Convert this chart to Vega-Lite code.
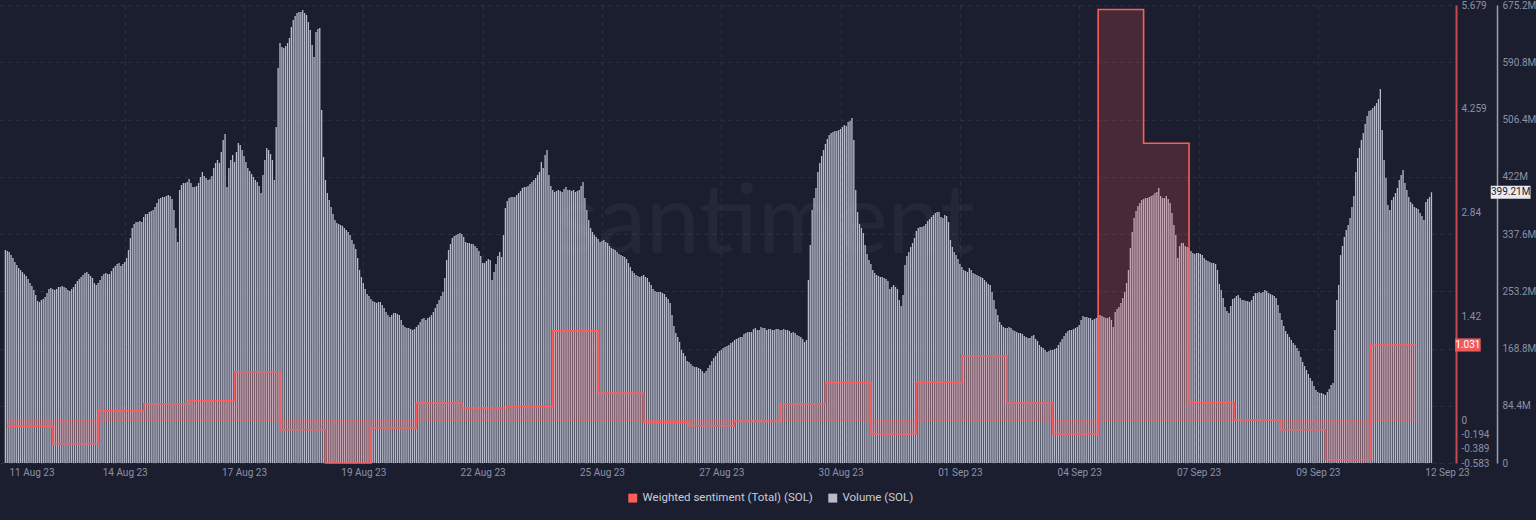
{
"$schema":"https://vega.github.io/schema/vega-lite/v6.json",
"width":1452,"height":458,
"autosize":{"type":"none"},
"padding":{"left":0,"top":5,"right":84,"bottom":57},
"background":"#1b1e2f",
"config":{"view":{"stroke":null},"font":"Roboto","axis":{"labelFont":"Roboto","labelFontSize":10,"labelColor":"#8d91a5","ticks":false}},
"datasets":{
"volume":[
{"t":"2023-08-11 23:00","v":314.0},
{"t":"2023-08-12 00:00","v":312.5},{"t":"2023-08-12 01:00","v":311.1},{"t":"2023-08-12 02:00","v":306.6},{"t":"2023-08-12 03:00","v":302.2},{"t":"2023-08-12 04:00","v":296.3},{"t":"2023-08-12 05:00","v":291.9},{"t":"2023-08-12 06:00","v":287.5},{"t":"2023-08-12 07:00","v":284.5},{"t":"2023-08-12 08:00","v":281.6},{"t":"2023-08-12 09:00","v":278.6},{"t":"2023-08-12 10:00","v":275.7},{"t":"2023-08-12 11:00","v":271.3},{"t":"2023-08-12 12:00","v":265.4},{"t":"2023-08-12 13:00","v":260.9},{"t":"2023-08-12 14:00","v":255.0},{"t":"2023-08-12 15:00","v":247.7},{"t":"2023-08-12 16:00","v":238.8},{"t":"2023-08-12 17:00","v":237.3},{"t":"2023-08-12 18:00","v":240.3},{"t":"2023-08-12 19:00","v":241.8},{"t":"2023-08-12 20:00","v":244.7},{"t":"2023-08-12 21:00","v":250.6},{"t":"2023-08-12 22:00","v":256.5},{"t":"2023-08-12 23:00","v":258.0},
{"t":"2023-08-13 00:00","v":256.5},{"t":"2023-08-13 01:00","v":255.0},{"t":"2023-08-13 02:00","v":256.5},{"t":"2023-08-13 03:00","v":259.5},{"t":"2023-08-13 04:00","v":259.5},{"t":"2023-08-13 05:00","v":260.9},{"t":"2023-08-13 06:00","v":259.5},{"t":"2023-08-13 07:00","v":258.0},{"t":"2023-08-13 08:00","v":255.0},{"t":"2023-08-13 09:00","v":253.6},{"t":"2023-08-13 10:00","v":256.5},{"t":"2023-08-13 11:00","v":259.5},{"t":"2023-08-13 12:00","v":263.9},{"t":"2023-08-13 13:00","v":268.3},{"t":"2023-08-13 14:00","v":271.3},{"t":"2023-08-13 15:00","v":274.2},{"t":"2023-08-13 16:00","v":277.2},{"t":"2023-08-13 17:00","v":280.1},{"t":"2023-08-13 18:00","v":281.6},{"t":"2023-08-13 19:00","v":278.6},{"t":"2023-08-13 20:00","v":275.7},{"t":"2023-08-13 21:00","v":272.7},{"t":"2023-08-13 22:00","v":265.4},{"t":"2023-08-13 23:00","v":262.4},
{"t":"2023-08-14 00:00","v":265.4},{"t":"2023-08-14 01:00","v":269.8},{"t":"2023-08-14 02:00","v":275.7},{"t":"2023-08-14 03:00","v":278.6},{"t":"2023-08-14 04:00","v":280.1},{"t":"2023-08-14 05:00","v":278.6},{"t":"2023-08-14 06:00","v":278.6},{"t":"2023-08-14 07:00","v":283.0},{"t":"2023-08-14 08:00","v":287.5},{"t":"2023-08-14 09:00","v":290.4},{"t":"2023-08-14 10:00","v":293.4},{"t":"2023-08-14 11:00","v":294.8},{"t":"2023-08-14 12:00","v":290.4},{"t":"2023-08-14 13:00","v":293.4},{"t":"2023-08-14 14:00","v":296.3},{"t":"2023-08-14 15:00","v":302.2},{"t":"2023-08-14 16:00","v":314.0},{"t":"2023-08-14 17:00","v":331.7},{"t":"2023-08-14 18:00","v":346.4},{"t":"2023-08-14 19:00","v":352.3},{"t":"2023-08-14 20:00","v":355.3},{"t":"2023-08-14 21:00","v":355.3},{"t":"2023-08-14 22:00","v":356.8},{"t":"2023-08-14 23:00","v":355.3},
{"t":"2023-08-15 00:00","v":362.7},{"t":"2023-08-15 01:00","v":367.1},{"t":"2023-08-15 02:00","v":367.1},{"t":"2023-08-15 03:00","v":370.0},{"t":"2023-08-15 04:00","v":371.5},{"t":"2023-08-15 05:00","v":373.0},{"t":"2023-08-15 06:00","v":377.4},{"t":"2023-08-15 07:00","v":383.3},{"t":"2023-08-15 08:00","v":389.2},{"t":"2023-08-15 09:00","v":390.7},{"t":"2023-08-15 10:00","v":392.1},{"t":"2023-08-15 11:00","v":392.1},{"t":"2023-08-15 12:00","v":393.6},{"t":"2023-08-15 13:00","v":395.1},{"t":"2023-08-15 14:00","v":393.6},{"t":"2023-08-15 15:00","v":389.2},{"t":"2023-08-15 16:00","v":373.0},{"t":"2023-08-15 17:00","v":346.4},{"t":"2023-08-15 18:00","v":325.8},{"t":"2023-08-15 19:00","v":402.5},{"t":"2023-08-15 20:00","v":409.8},{"t":"2023-08-15 21:00","v":412.8},{"t":"2023-08-15 22:00","v":412.8},{"t":"2023-08-15 23:00","v":414.3},
{"t":"2023-08-16 00:00","v":418.7},{"t":"2023-08-16 01:00","v":412.8},{"t":"2023-08-16 02:00","v":406.9},{"t":"2023-08-16 03:00","v":406.9},{"t":"2023-08-16 04:00","v":408.4},{"t":"2023-08-16 05:00","v":412.8},{"t":"2023-08-16 06:00","v":421.6},{"t":"2023-08-16 07:00","v":429.0},{"t":"2023-08-16 08:00","v":423.1},{"t":"2023-08-16 09:00","v":420.1},{"t":"2023-08-16 10:00","v":417.2},{"t":"2023-08-16 11:00","v":418.7},{"t":"2023-08-16 12:00","v":423.1},{"t":"2023-08-16 13:00","v":434.9},{"t":"2023-08-16 14:00","v":442.3},{"t":"2023-08-16 15:00","v":446.7},{"t":"2023-08-16 16:00","v":442.3},{"t":"2023-08-16 17:00","v":458.5},{"t":"2023-08-16 18:00","v":476.2},{"t":"2023-08-16 19:00","v":485.0},{"t":"2023-08-16 20:00","v":406.9},{"t":"2023-08-16 21:00","v":434.9},{"t":"2023-08-16 22:00","v":446.7},{"t":"2023-08-16 23:00","v":454.1},
{"t":"2023-08-17 00:00","v":443.7},{"t":"2023-08-17 01:00","v":458.5},{"t":"2023-08-17 02:00","v":471.7},{"t":"2023-08-17 03:00","v":468.8},{"t":"2023-08-17 04:00","v":461.4},{"t":"2023-08-17 05:00","v":452.6},{"t":"2023-08-17 06:00","v":443.7},{"t":"2023-08-17 07:00","v":434.9},{"t":"2023-08-17 08:00","v":430.5},{"t":"2023-08-17 09:00","v":426.0},{"t":"2023-08-17 10:00","v":421.6},{"t":"2023-08-17 11:00","v":417.2},{"t":"2023-08-17 12:00","v":414.3},{"t":"2023-08-17 13:00","v":408.4},{"t":"2023-08-17 14:00","v":398.0},{"t":"2023-08-17 15:00","v":424.6},{"t":"2023-08-17 16:00","v":446.7},{"t":"2023-08-17 17:00","v":464.4},{"t":"2023-08-17 18:00","v":461.4},{"t":"2023-08-17 19:00","v":455.5},{"t":"2023-08-17 20:00","v":446.7},{"t":"2023-08-17 21:00","v":417.2},{"t":"2023-08-17 22:00","v":495.3},{"t":"2023-08-17 23:00","v":582.3},
{"t":"2023-08-18 00:00","v":619.2},{"t":"2023-08-18 01:00","v":613.3},{"t":"2023-08-18 02:00","v":611.8},{"t":"2023-08-18 03:00","v":614.7},{"t":"2023-08-18 04:00","v":619.2},{"t":"2023-08-18 05:00","v":626.5},{"t":"2023-08-18 06:00","v":642.8},{"t":"2023-08-18 07:00","v":653.1},{"t":"2023-08-18 08:00","v":659.0},{"t":"2023-08-18 09:00","v":663.4},{"t":"2023-08-18 10:00","v":664.9},{"t":"2023-08-18 11:00","v":664.9},{"t":"2023-08-18 12:00","v":667.8},{"t":"2023-08-18 13:00","v":663.4},{"t":"2023-08-18 14:00","v":660.4},{"t":"2023-08-18 15:00","v":650.1},{"t":"2023-08-18 16:00","v":638.3},{"t":"2023-08-18 17:00","v":616.2},{"t":"2023-08-18 18:00","v":598.5},{"t":"2023-08-18 19:00","v":635.4},{"t":"2023-08-18 20:00","v":639.8},{"t":"2023-08-18 21:00","v":641.3},{"t":"2023-08-18 22:00","v":520.4},{"t":"2023-08-18 23:00","v":451.1},
{"t":"2023-08-19 00:00","v":417.2},{"t":"2023-08-19 01:00","v":398.0},{"t":"2023-08-19 02:00","v":387.7},{"t":"2023-08-19 03:00","v":377.4},{"t":"2023-08-19 04:00","v":367.1},{"t":"2023-08-19 05:00","v":358.2},{"t":"2023-08-19 06:00","v":353.8},{"t":"2023-08-19 07:00","v":352.3},{"t":"2023-08-19 08:00","v":350.9},{"t":"2023-08-19 09:00","v":349.4},{"t":"2023-08-19 10:00","v":346.4},{"t":"2023-08-19 11:00","v":343.5},{"t":"2023-08-19 12:00","v":340.5},{"t":"2023-08-19 13:00","v":336.1},{"t":"2023-08-19 14:00","v":328.7},{"t":"2023-08-19 15:00","v":322.8},{"t":"2023-08-19 16:00","v":315.5},{"t":"2023-08-19 17:00","v":302.2},{"t":"2023-08-19 18:00","v":284.5},{"t":"2023-08-19 19:00","v":274.2},{"t":"2023-08-19 20:00","v":265.4},{"t":"2023-08-19 21:00","v":256.5},{"t":"2023-08-19 22:00","v":249.1},{"t":"2023-08-19 23:00","v":246.2},
{"t":"2023-08-20 00:00","v":241.8},{"t":"2023-08-20 01:00","v":238.8},{"t":"2023-08-20 02:00","v":237.3},{"t":"2023-08-20 03:00","v":235.9},{"t":"2023-08-20 04:00","v":237.3},{"t":"2023-08-20 05:00","v":237.3},{"t":"2023-08-20 06:00","v":232.9},{"t":"2023-08-20 07:00","v":228.5},{"t":"2023-08-20 08:00","v":222.6},{"t":"2023-08-20 09:00","v":218.2},{"t":"2023-08-20 10:00","v":215.2},{"t":"2023-08-20 11:00","v":218.2},{"t":"2023-08-20 12:00","v":221.1},{"t":"2023-08-20 13:00","v":221.1},{"t":"2023-08-20 14:00","v":219.7},{"t":"2023-08-20 15:00","v":218.2},{"t":"2023-08-20 16:00","v":210.8},{"t":"2023-08-20 17:00","v":203.4},{"t":"2023-08-20 18:00","v":200.5},{"t":"2023-08-20 19:00","v":199.0},{"t":"2023-08-20 20:00","v":199.0},{"t":"2023-08-20 21:00","v":197.5},{"t":"2023-08-20 22:00","v":196.1},{"t":"2023-08-20 23:00","v":197.5},
{"t":"2023-08-21 00:00","v":200.5},{"t":"2023-08-21 01:00","v":203.4},{"t":"2023-08-21 02:00","v":207.9},{"t":"2023-08-21 03:00","v":212.3},{"t":"2023-08-21 04:00","v":213.8},{"t":"2023-08-21 05:00","v":210.8},{"t":"2023-08-21 06:00","v":213.8},{"t":"2023-08-21 07:00","v":215.2},{"t":"2023-08-21 08:00","v":218.2},{"t":"2023-08-21 09:00","v":222.6},{"t":"2023-08-21 10:00","v":228.5},{"t":"2023-08-21 11:00","v":234.4},{"t":"2023-08-21 12:00","v":240.3},{"t":"2023-08-21 13:00","v":246.2},{"t":"2023-08-21 14:00","v":252.1},{"t":"2023-08-21 15:00","v":272.7},{"t":"2023-08-21 16:00","v":299.3},{"t":"2023-08-21 17:00","v":314.0},{"t":"2023-08-21 18:00","v":322.8},{"t":"2023-08-21 19:00","v":331.7},{"t":"2023-08-21 20:00","v":334.6},{"t":"2023-08-21 21:00","v":336.1},{"t":"2023-08-21 22:00","v":337.6},{"t":"2023-08-21 23:00","v":339.1},
{"t":"2023-08-22 00:00","v":337.6},{"t":"2023-08-22 01:00","v":333.2},{"t":"2023-08-22 02:00","v":325.8},{"t":"2023-08-22 03:00","v":324.3},{"t":"2023-08-22 04:00","v":324.3},{"t":"2023-08-22 05:00","v":322.8},{"t":"2023-08-22 06:00","v":322.8},{"t":"2023-08-22 07:00","v":319.9},{"t":"2023-08-22 08:00","v":317.0},{"t":"2023-08-22 09:00","v":312.5},{"t":"2023-08-22 10:00","v":305.2},{"t":"2023-08-22 11:00","v":294.8},{"t":"2023-08-22 12:00","v":294.8},{"t":"2023-08-22 13:00","v":297.8},{"t":"2023-08-22 14:00","v":300.7},{"t":"2023-08-22 15:00","v":299.3},{"t":"2023-08-22 16:00","v":269.8},{"t":"2023-08-22 17:00","v":281.6},{"t":"2023-08-22 18:00","v":293.4},{"t":"2023-08-22 19:00","v":305.2},{"t":"2023-08-22 20:00","v":311.1},{"t":"2023-08-22 21:00","v":303.7},{"t":"2023-08-22 22:00","v":336.1},{"t":"2023-08-22 23:00","v":375.9},
{"t":"2023-08-23 00:00","v":386.2},{"t":"2023-08-23 01:00","v":390.7},{"t":"2023-08-23 02:00","v":392.1},{"t":"2023-08-23 03:00","v":392.1},{"t":"2023-08-23 04:00","v":392.1},{"t":"2023-08-23 05:00","v":395.1},{"t":"2023-08-23 06:00","v":398.0},{"t":"2023-08-23 07:00","v":401.0},{"t":"2023-08-23 08:00","v":405.4},{"t":"2023-08-23 09:00","v":406.9},{"t":"2023-08-23 10:00","v":406.9},{"t":"2023-08-23 11:00","v":408.4},{"t":"2023-08-23 12:00","v":411.3},{"t":"2023-08-23 13:00","v":414.3},{"t":"2023-08-23 14:00","v":417.2},{"t":"2023-08-23 15:00","v":420.1},{"t":"2023-08-23 16:00","v":424.6},{"t":"2023-08-23 17:00","v":429.0},{"t":"2023-08-23 18:00","v":443.7},{"t":"2023-08-23 19:00","v":434.9},{"t":"2023-08-23 20:00","v":454.1},{"t":"2023-08-23 21:00","v":461.4},{"t":"2023-08-23 22:00","v":424.6},{"t":"2023-08-23 23:00","v":408.4},
{"t":"2023-08-24 00:00","v":402.5},{"t":"2023-08-24 01:00","v":399.5},{"t":"2023-08-24 02:00","v":401.0},{"t":"2023-08-24 03:00","v":402.5},{"t":"2023-08-24 04:00","v":401.0},{"t":"2023-08-24 05:00","v":399.5},{"t":"2023-08-24 06:00","v":403.9},{"t":"2023-08-24 07:00","v":406.9},{"t":"2023-08-24 08:00","v":402.5},{"t":"2023-08-24 09:00","v":402.5},{"t":"2023-08-24 10:00","v":401.0},{"t":"2023-08-24 11:00","v":402.5},{"t":"2023-08-24 12:00","v":399.5},{"t":"2023-08-24 13:00","v":401.0},{"t":"2023-08-24 14:00","v":402.5},{"t":"2023-08-24 15:00","v":408.4},{"t":"2023-08-24 16:00","v":414.3},{"t":"2023-08-24 17:00","v":390.7},{"t":"2023-08-24 18:00","v":373.0},{"t":"2023-08-24 19:00","v":358.2},{"t":"2023-08-24 20:00","v":346.4},{"t":"2023-08-24 21:00","v":340.5},{"t":"2023-08-24 22:00","v":336.1},{"t":"2023-08-24 23:00","v":333.2},
{"t":"2023-08-25 00:00","v":330.2},{"t":"2023-08-25 01:00","v":325.8},{"t":"2023-08-25 02:00","v":327.3},{"t":"2023-08-25 03:00","v":328.7},{"t":"2023-08-25 04:00","v":325.8},{"t":"2023-08-25 05:00","v":324.3},{"t":"2023-08-25 06:00","v":319.9},{"t":"2023-08-25 07:00","v":317.0},{"t":"2023-08-25 08:00","v":315.5},{"t":"2023-08-25 09:00","v":314.0},{"t":"2023-08-25 10:00","v":311.1},{"t":"2023-08-25 11:00","v":308.1},{"t":"2023-08-25 12:00","v":306.6},{"t":"2023-08-25 13:00","v":305.2},{"t":"2023-08-25 14:00","v":303.7},{"t":"2023-08-25 15:00","v":300.7},{"t":"2023-08-25 16:00","v":294.8},{"t":"2023-08-25 17:00","v":288.9},{"t":"2023-08-25 18:00","v":283.0},{"t":"2023-08-25 19:00","v":280.1},{"t":"2023-08-25 20:00","v":277.2},{"t":"2023-08-25 21:00","v":275.7},{"t":"2023-08-25 22:00","v":274.2},{"t":"2023-08-25 23:00","v":275.7},
{"t":"2023-08-26 00:00","v":277.2},{"t":"2023-08-26 01:00","v":274.2},{"t":"2023-08-26 02:00","v":272.7},{"t":"2023-08-26 03:00","v":266.8},{"t":"2023-08-26 04:00","v":262.4},{"t":"2023-08-26 05:00","v":256.5},{"t":"2023-08-26 06:00","v":253.6},{"t":"2023-08-26 07:00","v":252.1},{"t":"2023-08-26 08:00","v":252.1},{"t":"2023-08-26 09:00","v":252.1},{"t":"2023-08-26 10:00","v":250.6},{"t":"2023-08-26 11:00","v":249.1},{"t":"2023-08-26 12:00","v":244.7},{"t":"2023-08-26 13:00","v":241.8},{"t":"2023-08-26 14:00","v":235.9},{"t":"2023-08-26 15:00","v":218.2},{"t":"2023-08-26 16:00","v":202.0},{"t":"2023-08-26 17:00","v":191.6},{"t":"2023-08-26 18:00","v":185.7},{"t":"2023-08-26 19:00","v":178.4},{"t":"2023-08-26 20:00","v":166.6},{"t":"2023-08-26 21:00","v":162.2},{"t":"2023-08-26 22:00","v":157.7},{"t":"2023-08-26 23:00","v":150.4},
{"t":"2023-08-27 00:00","v":148.9},{"t":"2023-08-27 01:00","v":145.9},{"t":"2023-08-27 02:00","v":143.0},{"t":"2023-08-27 03:00","v":141.5},{"t":"2023-08-27 04:00","v":141.5},{"t":"2023-08-27 05:00","v":140.0},{"t":"2023-08-27 06:00","v":138.6},{"t":"2023-08-27 07:00","v":135.6},{"t":"2023-08-27 08:00","v":132.7},{"t":"2023-08-27 09:00","v":135.6},{"t":"2023-08-27 10:00","v":140.0},{"t":"2023-08-27 11:00","v":144.5},{"t":"2023-08-27 12:00","v":150.4},{"t":"2023-08-27 13:00","v":154.8},{"t":"2023-08-27 14:00","v":157.7},{"t":"2023-08-27 15:00","v":162.2},{"t":"2023-08-27 16:00","v":165.1},{"t":"2023-08-27 17:00","v":166.6},{"t":"2023-08-27 18:00","v":169.5},{"t":"2023-08-27 19:00","v":171.0},{"t":"2023-08-27 20:00","v":172.5},{"t":"2023-08-27 21:00","v":174.0},{"t":"2023-08-27 22:00","v":176.9},{"t":"2023-08-27 23:00","v":178.4},
{"t":"2023-08-28 00:00","v":181.3},{"t":"2023-08-28 01:00","v":182.8},{"t":"2023-08-28 02:00","v":184.3},{"t":"2023-08-28 03:00","v":185.7},{"t":"2023-08-28 04:00","v":185.7},{"t":"2023-08-28 05:00","v":190.2},{"t":"2023-08-28 06:00","v":191.6},{"t":"2023-08-28 07:00","v":193.1},{"t":"2023-08-28 08:00","v":193.1},{"t":"2023-08-28 09:00","v":193.1},{"t":"2023-08-28 10:00","v":197.5},{"t":"2023-08-28 11:00","v":199.0},{"t":"2023-08-28 12:00","v":196.1},{"t":"2023-08-28 13:00","v":196.1},{"t":"2023-08-28 14:00","v":200.5},{"t":"2023-08-28 15:00","v":199.0},{"t":"2023-08-28 16:00","v":199.0},{"t":"2023-08-28 17:00","v":196.1},{"t":"2023-08-28 18:00","v":197.5},{"t":"2023-08-28 19:00","v":197.5},{"t":"2023-08-28 20:00","v":196.1},{"t":"2023-08-28 21:00","v":196.1},{"t":"2023-08-28 22:00","v":197.5},{"t":"2023-08-28 23:00","v":197.5},
{"t":"2023-08-29 00:00","v":196.1},{"t":"2023-08-29 01:00","v":196.1},{"t":"2023-08-29 02:00","v":197.5},{"t":"2023-08-29 03:00","v":196.1},{"t":"2023-08-29 04:00","v":196.1},{"t":"2023-08-29 05:00","v":194.6},{"t":"2023-08-29 06:00","v":191.6},{"t":"2023-08-29 07:00","v":193.1},{"t":"2023-08-29 08:00","v":191.6},{"t":"2023-08-29 09:00","v":188.7},{"t":"2023-08-29 10:00","v":187.2},{"t":"2023-08-29 11:00","v":185.7},{"t":"2023-08-29 12:00","v":182.8},{"t":"2023-08-29 13:00","v":178.4},{"t":"2023-08-29 14:00","v":181.3},{"t":"2023-08-29 15:00","v":269.8},{"t":"2023-08-29 16:00","v":321.4},{"t":"2023-08-29 17:00","v":373.0},{"t":"2023-08-29 18:00","v":390.7},{"t":"2023-08-29 19:00","v":405.4},{"t":"2023-08-29 20:00","v":429.0},{"t":"2023-08-29 21:00","v":442.3},{"t":"2023-08-29 22:00","v":452.6},{"t":"2023-08-29 23:00","v":461.4},
{"t":"2023-08-30 00:00","v":470.3},{"t":"2023-08-30 01:00","v":477.6},{"t":"2023-08-30 02:00","v":483.5},{"t":"2023-08-30 03:00","v":486.5},{"t":"2023-08-30 04:00","v":488.0},{"t":"2023-08-30 05:00","v":489.4},{"t":"2023-08-30 06:00","v":489.4},{"t":"2023-08-30 07:00","v":490.9},{"t":"2023-08-30 08:00","v":492.4},{"t":"2023-08-30 09:00","v":495.3},{"t":"2023-08-30 10:00","v":498.3},{"t":"2023-08-30 11:00","v":496.8},{"t":"2023-08-30 12:00","v":502.7},{"t":"2023-08-30 13:00","v":504.2},{"t":"2023-08-30 14:00","v":508.6},{"t":"2023-08-30 15:00","v":476.2},{"t":"2023-08-30 16:00","v":402.5},{"t":"2023-08-30 17:00","v":370.0},{"t":"2023-08-30 18:00","v":352.3},{"t":"2023-08-30 19:00","v":346.4},{"t":"2023-08-30 20:00","v":339.1},{"t":"2023-08-30 21:00","v":321.4},{"t":"2023-08-30 22:00","v":308.1},{"t":"2023-08-30 23:00","v":299.3},
{"t":"2023-08-31 00:00","v":293.4},{"t":"2023-08-31 01:00","v":284.5},{"t":"2023-08-31 02:00","v":280.1},{"t":"2023-08-31 03:00","v":277.2},{"t":"2023-08-31 04:00","v":275.7},{"t":"2023-08-31 05:00","v":274.2},{"t":"2023-08-31 06:00","v":274.2},{"t":"2023-08-31 07:00","v":272.7},{"t":"2023-08-31 08:00","v":271.3},{"t":"2023-08-31 09:00","v":268.3},{"t":"2023-08-31 10:00","v":256.5},{"t":"2023-08-31 11:00","v":259.5},{"t":"2023-08-31 12:00","v":262.4},{"t":"2023-08-31 13:00","v":259.5},{"t":"2023-08-31 14:00","v":256.5},{"t":"2023-08-31 15:00","v":240.3},{"t":"2023-08-31 16:00","v":231.4},{"t":"2023-08-31 17:00","v":247.7},{"t":"2023-08-31 18:00","v":291.9},{"t":"2023-08-31 19:00","v":305.2},{"t":"2023-08-31 20:00","v":311.1},{"t":"2023-08-31 21:00","v":318.4},{"t":"2023-08-31 22:00","v":324.3},{"t":"2023-08-31 23:00","v":331.7},
{"t":"2023-09-01 00:00","v":342.0},{"t":"2023-09-01 01:00","v":346.4},{"t":"2023-09-01 02:00","v":347.9},{"t":"2023-09-01 03:00","v":347.9},{"t":"2023-09-01 04:00","v":349.4},{"t":"2023-09-01 05:00","v":352.3},{"t":"2023-09-01 06:00","v":356.8},{"t":"2023-09-01 07:00","v":359.7},{"t":"2023-09-01 08:00","v":362.7},{"t":"2023-09-01 09:00","v":365.6},{"t":"2023-09-01 10:00","v":368.6},{"t":"2023-09-01 11:00","v":370.0},{"t":"2023-09-01 12:00","v":370.0},{"t":"2023-09-01 13:00","v":362.7},{"t":"2023-09-01 14:00","v":361.2},{"t":"2023-09-01 15:00","v":365.6},{"t":"2023-09-01 16:00","v":364.1},{"t":"2023-09-01 17:00","v":355.3},{"t":"2023-09-01 18:00","v":328.7},{"t":"2023-09-01 19:00","v":318.4},{"t":"2023-09-01 20:00","v":311.1},{"t":"2023-09-01 21:00","v":306.6},{"t":"2023-09-01 22:00","v":300.7},{"t":"2023-09-01 23:00","v":293.4},
{"t":"2023-09-02 00:00","v":288.9},{"t":"2023-09-02 01:00","v":284.5},{"t":"2023-09-02 02:00","v":283.0},{"t":"2023-09-02 03:00","v":281.6},{"t":"2023-09-02 04:00","v":287.5},{"t":"2023-09-02 05:00","v":284.5},{"t":"2023-09-02 06:00","v":280.1},{"t":"2023-09-02 07:00","v":278.6},{"t":"2023-09-02 08:00","v":277.2},{"t":"2023-09-02 09:00","v":275.7},{"t":"2023-09-02 10:00","v":274.2},{"t":"2023-09-02 11:00","v":272.7},{"t":"2023-09-02 12:00","v":269.8},{"t":"2023-09-02 13:00","v":266.8},{"t":"2023-09-02 14:00","v":263.9},{"t":"2023-09-02 15:00","v":262.4},{"t":"2023-09-02 16:00","v":252.1},{"t":"2023-09-02 17:00","v":240.3},{"t":"2023-09-02 18:00","v":227.0},{"t":"2023-09-02 19:00","v":218.2},{"t":"2023-09-02 20:00","v":207.9},{"t":"2023-09-02 21:00","v":203.4},{"t":"2023-09-02 22:00","v":200.5},{"t":"2023-09-02 23:00","v":199.0},
{"t":"2023-09-03 00:00","v":199.0},{"t":"2023-09-03 01:00","v":200.5},{"t":"2023-09-03 02:00","v":199.0},{"t":"2023-09-03 03:00","v":196.1},{"t":"2023-09-03 04:00","v":194.6},{"t":"2023-09-03 05:00","v":193.1},{"t":"2023-09-03 06:00","v":191.6},{"t":"2023-09-03 07:00","v":191.6},{"t":"2023-09-03 08:00","v":190.2},{"t":"2023-09-03 09:00","v":187.2},{"t":"2023-09-03 10:00","v":185.7},{"t":"2023-09-03 11:00","v":184.3},{"t":"2023-09-03 12:00","v":184.3},{"t":"2023-09-03 13:00","v":187.2},{"t":"2023-09-03 14:00","v":188.7},{"t":"2023-09-03 15:00","v":182.8},{"t":"2023-09-03 16:00","v":179.9},{"t":"2023-09-03 17:00","v":174.0},{"t":"2023-09-03 18:00","v":171.0},{"t":"2023-09-03 19:00","v":169.5},{"t":"2023-09-03 20:00","v":166.6},{"t":"2023-09-03 21:00","v":163.6},{"t":"2023-09-03 22:00","v":165.1},{"t":"2023-09-03 23:00","v":166.6},
{"t":"2023-09-04 00:00","v":166.6},{"t":"2023-09-04 01:00","v":168.1},{"t":"2023-09-04 02:00","v":169.5},{"t":"2023-09-04 03:00","v":174.0},{"t":"2023-09-04 04:00","v":178.4},{"t":"2023-09-04 05:00","v":182.8},{"t":"2023-09-04 06:00","v":187.2},{"t":"2023-09-04 07:00","v":191.6},{"t":"2023-09-04 08:00","v":194.6},{"t":"2023-09-04 09:00","v":196.1},{"t":"2023-09-04 10:00","v":196.1},{"t":"2023-09-04 11:00","v":197.5},{"t":"2023-09-04 12:00","v":199.0},{"t":"2023-09-04 13:00","v":200.5},{"t":"2023-09-04 14:00","v":203.4},{"t":"2023-09-04 15:00","v":210.8},{"t":"2023-09-04 16:00","v":216.7},{"t":"2023-09-04 17:00","v":215.2},{"t":"2023-09-04 18:00","v":215.2},{"t":"2023-09-04 19:00","v":213.8},{"t":"2023-09-04 20:00","v":213.8},{"t":"2023-09-04 21:00","v":210.8},{"t":"2023-09-04 22:00","v":212.3},{"t":"2023-09-04 23:00","v":213.8},
{"t":"2023-09-05 00:00","v":216.7},{"t":"2023-09-05 01:00","v":218.2},{"t":"2023-09-05 02:00","v":216.7},{"t":"2023-09-05 03:00","v":215.2},{"t":"2023-09-05 04:00","v":213.8},{"t":"2023-09-05 05:00","v":213.8},{"t":"2023-09-05 06:00","v":215.2},{"t":"2023-09-05 07:00","v":210.8},{"t":"2023-09-05 08:00","v":200.5},{"t":"2023-09-05 09:00","v":222.6},{"t":"2023-09-05 10:00","v":227.0},{"t":"2023-09-05 11:00","v":230.0},{"t":"2023-09-05 12:00","v":235.9},{"t":"2023-09-05 13:00","v":243.2},{"t":"2023-09-05 14:00","v":252.1},{"t":"2023-09-05 15:00","v":265.4},{"t":"2023-09-05 16:00","v":284.5},{"t":"2023-09-05 17:00","v":317.0},{"t":"2023-09-05 18:00","v":340.5},{"t":"2023-09-05 19:00","v":361.2},{"t":"2023-09-05 20:00","v":371.5},{"t":"2023-09-05 21:00","v":378.9},{"t":"2023-09-05 22:00","v":383.3},{"t":"2023-09-05 23:00","v":387.7},
{"t":"2023-09-06 00:00","v":389.2},{"t":"2023-09-06 01:00","v":390.7},{"t":"2023-09-06 02:00","v":390.7},{"t":"2023-09-06 03:00","v":392.1},{"t":"2023-09-06 04:00","v":393.6},{"t":"2023-09-06 05:00","v":395.1},{"t":"2023-09-06 06:00","v":398.0},{"t":"2023-09-06 07:00","v":399.5},{"t":"2023-09-06 08:00","v":405.4},{"t":"2023-09-06 09:00","v":393.6},{"t":"2023-09-06 10:00","v":390.7},{"t":"2023-09-06 11:00","v":390.7},{"t":"2023-09-06 12:00","v":393.6},{"t":"2023-09-06 13:00","v":389.2},{"t":"2023-09-06 14:00","v":383.3},{"t":"2023-09-06 15:00","v":368.6},{"t":"2023-09-06 16:00","v":350.9},{"t":"2023-09-06 17:00","v":336.1},{"t":"2023-09-06 18:00","v":302.2},{"t":"2023-09-06 19:00","v":319.9},{"t":"2023-09-06 20:00","v":324.3},{"t":"2023-09-06 21:00","v":324.3},{"t":"2023-09-06 22:00","v":319.9},{"t":"2023-09-06 23:00","v":318.4},
{"t":"2023-09-07 00:00","v":317.0},{"t":"2023-09-07 01:00","v":312.5},{"t":"2023-09-07 02:00","v":309.6},{"t":"2023-09-07 03:00","v":308.1},{"t":"2023-09-07 04:00","v":309.6},{"t":"2023-09-07 05:00","v":309.6},{"t":"2023-09-07 06:00","v":308.1},{"t":"2023-09-07 07:00","v":306.6},{"t":"2023-09-07 08:00","v":302.2},{"t":"2023-09-07 09:00","v":299.3},{"t":"2023-09-07 10:00","v":297.8},{"t":"2023-09-07 11:00","v":296.3},{"t":"2023-09-07 12:00","v":294.8},{"t":"2023-09-07 13:00","v":294.8},{"t":"2023-09-07 14:00","v":293.4},{"t":"2023-09-07 15:00","v":284.5},{"t":"2023-09-07 16:00","v":263.9},{"t":"2023-09-07 17:00","v":255.0},{"t":"2023-09-07 18:00","v":243.2},{"t":"2023-09-07 19:00","v":230.0},{"t":"2023-09-07 20:00","v":224.1},{"t":"2023-09-07 21:00","v":221.1},{"t":"2023-09-07 22:00","v":231.4},{"t":"2023-09-07 23:00","v":241.8},
{"t":"2023-09-08 00:00","v":243.2},{"t":"2023-09-08 01:00","v":246.2},{"t":"2023-09-08 02:00","v":247.7},{"t":"2023-09-08 03:00","v":243.2},{"t":"2023-09-08 04:00","v":240.3},{"t":"2023-09-08 05:00","v":240.3},{"t":"2023-09-08 06:00","v":238.8},{"t":"2023-09-08 07:00","v":238.8},{"t":"2023-09-08 08:00","v":237.3},{"t":"2023-09-08 09:00","v":240.3},{"t":"2023-09-08 10:00","v":246.2},{"t":"2023-09-08 11:00","v":250.6},{"t":"2023-09-08 12:00","v":250.6},{"t":"2023-09-08 13:00","v":252.1},{"t":"2023-09-08 14:00","v":250.6},{"t":"2023-09-08 15:00","v":252.1},{"t":"2023-09-08 16:00","v":255.0},{"t":"2023-09-08 17:00","v":253.6},{"t":"2023-09-08 18:00","v":250.6},{"t":"2023-09-08 19:00","v":249.1},{"t":"2023-09-08 20:00","v":247.7},{"t":"2023-09-08 21:00","v":246.2},{"t":"2023-09-08 22:00","v":243.2},{"t":"2023-09-08 23:00","v":232.9},
{"t":"2023-09-09 00:00","v":221.1},{"t":"2023-09-09 01:00","v":210.8},{"t":"2023-09-09 02:00","v":202.0},{"t":"2023-09-09 03:00","v":194.6},{"t":"2023-09-09 04:00","v":190.2},{"t":"2023-09-09 05:00","v":185.7},{"t":"2023-09-09 06:00","v":181.3},{"t":"2023-09-09 07:00","v":176.9},{"t":"2023-09-09 08:00","v":174.0},{"t":"2023-09-09 09:00","v":169.5},{"t":"2023-09-09 10:00","v":165.1},{"t":"2023-09-09 11:00","v":156.3},{"t":"2023-09-09 12:00","v":148.9},{"t":"2023-09-09 13:00","v":143.0},{"t":"2023-09-09 14:00","v":137.1},{"t":"2023-09-09 15:00","v":131.2},{"t":"2023-09-09 16:00","v":125.3},{"t":"2023-09-09 17:00","v":120.9},{"t":"2023-09-09 18:00","v":113.5},{"t":"2023-09-09 19:00","v":107.6},{"t":"2023-09-09 20:00","v":104.7},{"t":"2023-09-09 21:00","v":103.2},{"t":"2023-09-09 22:00","v":103.2},{"t":"2023-09-09 23:00","v":101.7},
{"t":"2023-09-10 00:00","v":100.2},{"t":"2023-09-10 01:00","v":104.7},{"t":"2023-09-10 02:00","v":109.1},{"t":"2023-09-10 03:00","v":115.0},{"t":"2023-09-10 04:00","v":117.9},{"t":"2023-09-10 05:00","v":196.1},{"t":"2023-09-10 06:00","v":240.3},{"t":"2023-09-10 07:00","v":262.4},{"t":"2023-09-10 08:00","v":306.6},{"t":"2023-09-10 09:00","v":319.9},{"t":"2023-09-10 10:00","v":333.2},{"t":"2023-09-10 11:00","v":343.5},{"t":"2023-09-10 12:00","v":350.9},{"t":"2023-09-10 13:00","v":361.2},{"t":"2023-09-10 14:00","v":377.4},{"t":"2023-09-10 15:00","v":393.6},{"t":"2023-09-10 16:00","v":429.0},{"t":"2023-09-10 17:00","v":449.6},{"t":"2023-09-10 18:00","v":464.4},{"t":"2023-09-10 19:00","v":476.2},{"t":"2023-09-10 20:00","v":486.5},{"t":"2023-09-10 21:00","v":499.8},{"t":"2023-09-10 22:00","v":511.5},{"t":"2023-09-10 23:00","v":518.9},
{"t":"2023-09-11 00:00","v":520.4},{"t":"2023-09-11 01:00","v":523.3},{"t":"2023-09-11 02:00","v":526.3},{"t":"2023-09-11 03:00","v":530.7},{"t":"2023-09-11 04:00","v":536.6},{"t":"2023-09-11 05:00","v":551.4},{"t":"2023-09-11 06:00","v":490.9},{"t":"2023-09-11 07:00","v":446.7},{"t":"2023-09-11 08:00","v":420.1},{"t":"2023-09-11 09:00","v":380.3},{"t":"2023-09-11 10:00","v":373.0},{"t":"2023-09-11 11:00","v":387.7},{"t":"2023-09-11 12:00","v":392.1},{"t":"2023-09-11 13:00","v":398.0},{"t":"2023-09-11 14:00","v":405.4},{"t":"2023-09-11 15:00","v":417.2},{"t":"2023-09-11 16:00","v":424.6},{"t":"2023-09-11 17:00","v":431.9},{"t":"2023-09-11 18:00","v":412.8},{"t":"2023-09-11 19:00","v":402.5},{"t":"2023-09-11 20:00","v":392.1},{"t":"2023-09-11 21:00","v":384.8},{"t":"2023-09-11 22:00","v":381.8},{"t":"2023-09-11 23:00","v":377.4},
{"t":"2023-09-12 00:00","v":375.9},{"t":"2023-09-12 01:00","v":374.4},{"t":"2023-09-12 02:00","v":368.6},{"t":"2023-09-12 03:00","v":364.1},{"t":"2023-09-12 04:00","v":358.2},{"t":"2023-09-12 05:00","v":384.8},{"t":"2023-09-12 06:00","v":389.2},{"t":"2023-09-12 07:00","v":392.1},{"t":"2023-09-12 08:00","v":399.21}
],
"sentiment":[
{"date":"2023-08-12 00:00","s":-0.083},{"date":"2023-08-13 00:00","s":-0.32},{"date":"2023-08-14 00:00","s":0.131},{"date":"2023-08-15 00:00","s":0.227},{"date":"2023-08-16 00:00","s":0.272},{"date":"2023-08-17 00:00","s":0.664},{"date":"2023-08-18 00:00","s":-0.128},{"date":"2023-08-19 00:00","s":-0.583},{"date":"2023-08-20 00:00","s":-0.105},{"date":"2023-08-21 00:00","s":0.236},{"date":"2023-08-22 00:00","s":0.168},{"date":"2023-08-23 00:00","s":0.19},{"date":"2023-08-24 00:00","s":1.224},{"date":"2023-08-25 00:00","s":0.373},{"date":"2023-08-26 00:00","s":-0.029},{"date":"2023-08-27 00:00","s":-0.074},{"date":"2023-08-28 00:00","s":-0.015},{"date":"2023-08-29 00:00","s":0.227},{"date":"2023-08-30 00:00","s":0.518},{"date":"2023-08-31 00:00","s":-0.187},{"date":"2023-09-01 00:00","s":0.523},{"date":"2023-09-02 00:00","s":0.883},{"date":"2023-09-03 00:00","s":0.236},{"date":"2023-09-04 00:00","s":-0.187},{"date":"2023-09-05 00:00","s":5.617},{"date":"2023-09-06 00:00","s":3.789},{"date":"2023-09-07 00:00","s":0.245},{"date":"2023-09-08 00:00","s":0.008},{"date":"2023-09-09 00:00","s":-0.128},{"date":"2023-09-10 00:00","s":-0.538},{"date":"2023-09-11 00:00","s":1.031},{"date":"2023-09-12 00:00","s":1.031}
]
},
"layer":[
{"data":{"name":"volume"},
 "layer":[
  {"data":{"values":[{"label":"santiment"}]},
   "mark":{"type":"text","font":"Lato","fontSize":96,"color":"#ffffff","opacity":0.04,"align":"center","baseline":"alphabetic"},
   "encoding":{
     "x":{"datum":{"year":2023,"month":8,"date":28,"hours":16,"minutes":30},"type":"temporal","title":null},
     "y":{"datum":309.6,"type":"quantitative","title":null},
     "text":{"field":"label"}}},
  {"mark":{"type":"bar","width":1.3},
   "encoding":{
     "x":{"field":"t","type":"temporal","title":null,
       "scale":{"domain":[{"year":2023,"month":8,"date":11,"hours":22,"minutes":48},{"year":2023,"month":9,"date":12,"hours":16,"minutes":12}]},
       "axis":{
         "values":[{"year":2023,"month":8,"date":11,"hours":22,"minutes":48},{"year":2023,"month":8,"date":14,"hours":14},{"year":2023,"month":8,"date":17,"hours":5},{"year":2023,"month":8,"date":19,"hours":20},{"year":2023,"month":8,"date":22,"hours":11},{"year":2023,"month":8,"date":25,"hours":2},{"year":2023,"month":8,"date":27,"hours":17},{"year":2023,"month":8,"date":30,"hours":8},{"year":2023,"month":9,"date":1,"hours":23},{"year":2023,"month":9,"date":4,"hours":14},{"year":2023,"month":9,"date":7,"hours":5},{"year":2023,"month":9,"date":9,"hours":20},{"year":2023,"month":9,"date":12,"hours":16,"minutes":12}],
         "format":"%d %b %y","labelPadding":4,"labelFontSize":10,"labelColor":"#8d91a5",
         "domain":false,"ticks":false,"labelOverlap":false,"labelFlush":false,"labelBound":false,
         "grid":true,"gridColor":"#2b2f45","gridDash":[4,4],
         "gridOpacity":{"condition":{"test":"datum.value < time(datetime(2023,7,12)) || datum.value > time(datetime(2023,8,12))","value":0},"value":1},
         "labelAlign":{"condition":{"test":"datum.value < time(datetime(2023,7,12))","value":"left"},"value":"center"},
         "labelOffset":{"condition":{"test":"datum.value < time(datetime(2023,7,12))","value":4},"value":0}}},
     "y":{"field":"v","type":"quantitative","title":null,
       "scale":{"domain":[0,675.2],"nice":false},
       "axis":{"orient":"right","offset":45,"values":[0,84.4,168.8,253.2,337.6,422,506.4,590.8,675.2],
         "labelExpr":"datum.value == 0 ? '0' : datum.value + 'M'",
         "domain":true,"domainColor":"#9a9eb0","domainWidth":1.5,"ticks":false,"labelPadding":5,
         "grid":true,"gridColor":"#2b2f45","gridDash":[4,4],"labelFontSize":10,"labelColor":"#8d91a5"}},
     "color":{"datum":"Volume (SOL)",
       "scale":{"domain":["Weighted sentiment (Total) (SOL)","Volume (SOL)"],"range":["#ff5c5c","#b8bbcc"]},
       "legend":{"orient":"none","legendX":627,"legendY":487,"direction":"horizontal","title":null,"symbolType":"square","symbolSize":80,"symbolStrokeWidth":0,"labelFontSize":11.5,"labelLimit":400,"labelColor":"#c9ccd8","labelFont":"Roboto","columnPadding":14,"labelOffset":4}}}},
  {"data":{"values":[{}]},
   "mark":{"type":"rect","color":"#e9eaf0"},
   "encoding":{
     "x":{"datum":{"year":2023,"month":9,"date":13,"hours":15,"minutes":18},"type":"temporal","title":null},
     "x2":{"datum":{"year":2023,"month":9,"date":14,"hours":12,"minutes":18}},
     "y":{"datum":408.8,"type":"quantitative","title":null},
     "y2":{"datum":389.6}}},
  {"data":{"values":[{"label":"399.21M"}]},
   "mark":{"type":"text","color":"#1b1e2f","fontSize":10,"align":"center","baseline":"middle"},
   "encoding":{
     "x":{"datum":{"year":2023,"month":9,"date":14,"hours":1,"minutes":48},"type":"temporal","title":null},
     "y":{"datum":399.21,"type":"quantitative","title":null},
     "text":{"field":"label"}}}
 ]},
{"data":{"name":"sentiment"},
 "layer":[
  {"mark":{"type":"area","interpolate":"step-after","color":"#ff5c5c","opacity":0.2},
   "encoding":{
     "x":{"field":"date","type":"temporal","title":null},
     "y":{"field":"s","type":"quantitative","title":null,
       "scale":{"domain":[-0.583,5.679],"nice":false,"zero":false},
       "axis":{"orient":"right","offset":4,"values":[-0.583,-0.389,-0.194,0,1.42,2.84,4.259,5.679],
         "labelExpr":"'' + datum.value","domain":true,"domainColor":"#c84850","domainWidth":2,"ticks":false,
         "labelPadding":5,"grid":false,"labelFontSize":10,"labelColor":"#8d91a5"}},
     "y2":{"datum":0}}},
  {"mark":{"type":"rule","color":"#ff5c5c","opacity":0.5,"strokeWidth":1},
   "encoding":{
     "x":{"aggregate":"min","field":"date","type":"temporal","title":null},
     "x2":{"aggregate":"max","field":"date"},
     "y":{"datum":0,"type":"quantitative","title":null}}},
  {"mark":{"type":"line","interpolate":"step-after","color":"#ff5c5c","strokeWidth":1.6},
   "encoding":{
     "x":{"field":"date","type":"temporal","title":null},
     "y":{"field":"s","type":"quantitative","title":null}}},
  {"data":{"values":[{}]},
   "mark":{"type":"rect","color":"#f0595c"},
   "encoding":{
     "x":{"datum":{"year":2023,"month":9,"date":12,"hours":20,"minutes":30},"type":"temporal","title":null},
     "x2":{"datum":{"year":2023,"month":9,"date":13,"hours":10,"minutes":0}},
     "y":{"datum":1.121,"type":"quantitative","title":null},
     "y2":{"datum":0.941}}},
  {"data":{"values":[{"label":"1.031"}]},
   "mark":{"type":"text","color":"#ffffff","fontSize":10,"align":"center","baseline":"middle"},
   "encoding":{
     "x":{"datum":{"year":2023,"month":9,"date":13,"hours":3,"minutes":15},"type":"temporal","title":null},
     "y":{"datum":1.031,"type":"quantitative","title":null},
     "text":{"field":"label"}}}
 ]}
],
"resolve":{"scale":{"y":"independent"}}
}
